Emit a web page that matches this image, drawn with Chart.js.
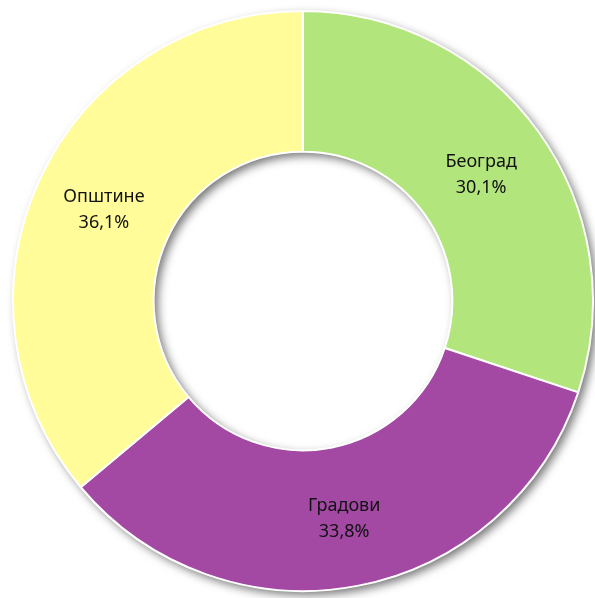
<!DOCTYPE html>
<html>
<head>
<meta charset="utf-8">
<script src="https://cdn.jsdelivr.net/npm/chart.js@4"></script>
<style>
  html, body { margin: 0; padding: 0; background: #fff; }
  #wrap { width: 595px; height: 598px; }
</style>
</head>
<body>
<div id="wrap"><canvas id="shareChart"></canvas></div>
<script>
const categories = ['Београд', 'Градови', 'Општине'];
const shares = [30.1, 33.8, 36.1];
const sliceColors = ['#B3E57D', '#A349A4', '#FFFC99'];

// soft drop shadow under the whole ring
const ringShadow = {
    id: 'ringShadow',
    beforeDatasetsDraw(chart) {
        const arc = chart.getDatasetMeta(0).data[0];
        if (!arc) return;
        const ctx = chart.ctx;
        ctx.save();
        ctx.shadowColor = 'rgba(0,0,0,0.55)';
        ctx.shadowBlur = 10;
        ctx.shadowOffsetX = 4;
        ctx.shadowOffsetY = 4;
        ctx.beginPath();
        ctx.arc(arc.x, arc.y, arc.outerRadius, 0, Math.PI * 2);
        ctx.arc(arc.x, arc.y, arc.innerRadius, 0, Math.PI * 2, true);
        ctx.fillStyle = '#fff';
        ctx.fill();
        ctx.restore();
    }
};

// category name + percent in the middle of each slice
const sliceLabels = {
    id: 'sliceLabels',
    afterDatasetsDraw(chart) {
        const ctx = chart.ctx;
        const meta = chart.getDatasetMeta(0);
        ctx.save();
        ctx.fillStyle = '#111';
        ctx.font = '18px "Noto Sans", sans-serif';
        ctx.textAlign = 'center';
        ctx.textBaseline = 'middle';
        meta.data.forEach(function (arc, i) {
            const p = arc.tooltipPosition();
            ctx.fillText(categories[i], p.x, p.y - 11);
            ctx.fillText(shares[i].toFixed(1).replace('.', ',') + '%', p.x, p.y + 15);
        });
        ctx.restore();
    }
};

let ctx = document.getElementById('shareChart').getContext('2d');
let shareChart = new Chart(ctx, {
    type: 'doughnut',
    data: {
        labels: categories,
        datasets: [{
            data: shares,
            backgroundColor: sliceColors,
            borderColor: '#fff',
            borderWidth: 2
        }]
    },
    options: {
        responsive: true,
        maintainAspectRatio: false,
        animation: false,
        cutout: '51.5%',
        layout: { padding: { left: 12, right: 1, top: 10, bottom: 6 } },
        plugins: {
            legend: { display: false },
            tooltip: { enabled: false }
        }
    },
    plugins: [ringShadow, sliceLabels]
});
</script>
</body>
</html>
